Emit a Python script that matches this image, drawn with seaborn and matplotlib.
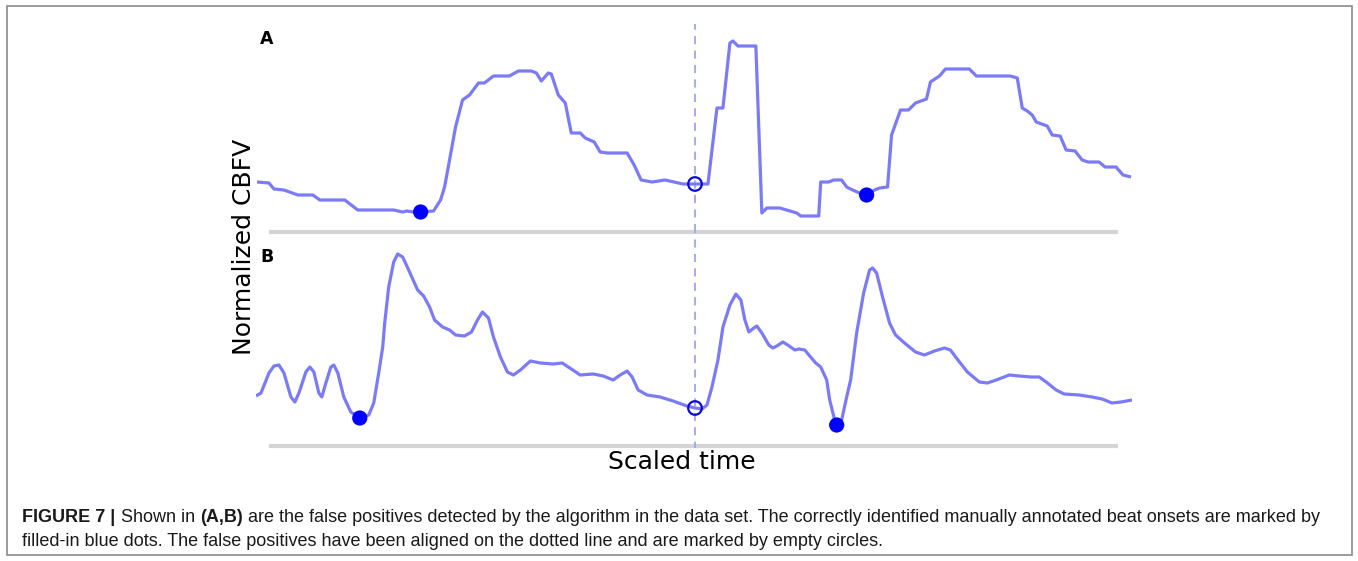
import matplotlib
matplotlib.use("Agg")
import matplotlib.pyplot as plt
from matplotlib.patches import Rectangle
import numpy as np
import pandas as pd
import seaborn as sns

# ---------------- data (scaled time, normalized CBFV) ----------------
time_a = [-4.39, -4.27, -4.22, -4.12, -3.98, -3.83, -3.76, -3.51, -3.38, -3.02,
          -2.93, -2.89, -2.82, -2.75, -2.62, -2.55, -2.51, -2.46, -2.40, -2.33,
          -2.26, -2.17, -2.11, -2.02, -1.86, -1.77, -1.64, -1.59, -1.54, -1.47,
          -1.44, -1.37, -1.30, -1.24, -1.15, -1.10, -1.01, -0.95, -0.88, -0.68,
          -0.61, -0.54, -0.43, -0.30, -0.12, 0.00, 0.13, 0.22, 0.28, 0.35,
          0.38, 0.43, 0.61, 0.67, 0.72, 0.85, 1.02, 1.06, 1.24, 1.26,
          1.34, 1.39, 1.47, 1.52, 1.58, 1.65, 1.72, 1.80, 1.85, 1.93,
          1.97, 2.06, 2.14, 2.21, 2.32, 2.36, 2.45, 2.51, 2.75, 2.82,
          3.16, 3.23, 3.28, 3.33, 3.38, 3.42, 3.53, 3.58, 3.66, 3.72,
          3.81, 3.88, 3.94, 4.05, 4.11, 4.22, 4.29, 4.37]
cbfv_a = [0.50, 0.49, 0.43, 0.42, 0.37, 0.37, 0.32, 0.32, 0.22, 0.22,
          0.20, 0.21, 0.20, 0.20, 0.21, 0.32, 0.45, 0.72, 1.05, 1.32,
          1.37, 1.49, 1.49, 1.56, 1.56, 1.61, 1.61, 1.59, 1.51, 1.59,
          1.58, 1.37, 1.29, 0.99, 0.99, 0.94, 0.90, 0.80, 0.79, 0.79,
          0.67, 0.52, 0.50, 0.52, 0.48, 0.48, 0.48, 1.24, 1.24, 1.89,
          1.91, 1.86, 1.86, 0.19, 0.24, 0.24, 0.19, 0.16, 0.16, 0.50,
          0.50, 0.52, 0.52, 0.45, 0.42, 0.39, 0.37, 0.42, 0.44, 0.45,
          0.97, 1.22, 1.22, 1.29, 1.33, 1.50, 1.56, 1.63, 1.63, 1.56,
          1.56, 1.54, 1.24, 1.21, 1.17, 1.10, 1.06, 0.97, 0.96, 0.82,
          0.81, 0.72, 0.70, 0.70, 0.65, 0.65, 0.57, 0.55]
onset_time_a = [-2.75, 1.72]
onset_cbfv_a = [0.20, 0.37]
fp_time_a = [0.00]
fp_cbfv_a = [0.48]

time_b = [-4.40, -4.35, -4.27, -4.22, -4.17, -4.12, -4.05, -4.01, -3.97, -3.90,
          -3.86, -3.82, -3.77, -3.74, -3.70, -3.65, -3.62, -3.58, -3.52, -3.45,
          -3.36, -3.27, -3.22, -3.17, -3.13, -3.11, -3.07, -3.02, -2.98, -2.93,
          -2.87, -2.78, -2.72, -2.66, -2.61, -2.53, -2.46, -2.40, -2.31, -2.24,
          -2.18, -2.13, -2.07, -2.02, -1.95, -1.88, -1.82, -1.75, -1.65, -1.55,
          -1.42, -1.33, -1.27, -1.15, -1.02, -0.92, -0.82, -0.75, -0.68, -0.63,
          -0.57, -0.48, -0.35, -0.22, -0.08, 0.00, 0.07, 0.12, 0.17, 0.23,
          0.28, 0.35, 0.41, 0.46, 0.50, 0.54, 0.59, 0.62, 0.67, 0.74,
          0.78, 0.82, 0.88, 0.93, 1.00, 1.04, 1.10, 1.15, 1.21, 1.26,
          1.32, 1.35, 1.40, 1.42, 1.47, 1.52, 1.56, 1.62, 1.69, 1.75,
          1.78, 1.82, 1.88, 1.95, 2.01, 2.10, 2.21, 2.30, 2.40, 2.50,
          2.56, 2.62, 2.73, 2.85, 2.93, 3.02, 3.15, 3.25, 3.37, 3.45,
          3.52, 3.62, 3.70, 3.85, 3.98, 4.08, 4.18, 4.27, 4.38]
cbfv_b = [0.50, 0.53, 0.73, 0.80, 0.81, 0.73, 0.49, 0.44, 0.53, 0.74,
          0.79, 0.74, 0.53, 0.49, 0.63, 0.79, 0.81, 0.73, 0.49, 0.34,
          0.28, 0.31, 0.43, 0.73, 0.99, 1.23, 1.59, 1.84, 1.92, 1.89,
          1.76, 1.56, 1.50, 1.39, 1.26, 1.19, 1.16, 1.11, 1.10, 1.14,
          1.26, 1.34, 1.28, 1.09, 0.89, 0.74, 0.71, 0.76, 0.85, 0.83,
          0.82, 0.83, 0.79, 0.71, 0.72, 0.70, 0.66, 0.71, 0.75, 0.69,
          0.56, 0.51, 0.49, 0.45, 0.40, 0.38, 0.37, 0.41, 0.59, 0.86,
          1.19, 1.41, 1.52, 1.46, 1.26, 1.14, 1.18, 1.20, 1.13, 1.01,
          0.98, 1.00, 1.04, 1.01, 0.96, 0.97, 0.96, 0.90, 0.83, 0.79,
          0.66, 0.46, 0.26, 0.21, 0.26, 0.49, 0.66, 1.13, 1.53, 1.76,
          1.78, 1.73, 1.49, 1.23, 1.11, 1.03, 0.94, 0.91, 0.95, 0.98,
          0.96, 0.88, 0.74, 0.64, 0.63, 0.66, 0.71, 0.70, 0.69, 0.69,
          0.64, 0.56, 0.52, 0.51, 0.49, 0.47, 0.43, 0.44, 0.46]
onset_time_b = [-3.36, 1.42]
onset_cbfv_b = [0.28, 0.21]
fp_time_b = [0.00]
fp_cbfv_b = [0.38]

panel_labels = ["A", "B"]
y_label = "Normalized CBFV"
x_label = "Scaled time"
caption_line1 = [("FIGURE 7 | ", "bold"), ("Shown in ", "normal"), ("(A,B)", "bold"),
                 (" are the false positives detected by the algorithm in the data set. "
                  "The correctly identified manually annotated beat onsets are marked by", "normal")]
caption_line2 = [("filled-in blue dots. The false positives have been aligned on the dotted "
                  "line and are marked by empty circles.", "normal")]

# ---------------- style ----------------
sns.set_theme(style="white")
plt.rcParams["font.family"] = ["DejaVu Sans"]

W, H = 1358, 561
fig = plt.figure(figsize=(W / 100, H / 100), dpi=100)

LINE_C = "#7b7bf7"
DOT_C = "#0000ff"
OPEN_C = "#0a0ad8"
DASH_C = "#a3a3f5"
BASE_C = "#d4d4d4"


def fx(px):
    return px / W


def fy(py):
    return 1 - py / H


axA = fig.add_axes([fx(256), fy(232), (1132 - 256) / W, (232 - 24) / H])
axB = fig.add_axes([fx(256), fy(446), (1132 - 256) / W, (446 - 232) / H])

panels = [
    (axA, time_a, cbfv_a, onset_time_a, onset_cbfv_a, fp_time_a, fp_cbfv_a, 2.08),
    (axB, time_b, cbfv_b, onset_time_b, onset_cbfv_b, fp_time_b, fp_cbfv_b, 2.14),
]

for i, (ax, t, v, ot, ov, ft, fv, ytop) in enumerate(panels):
    ax.set_facecolor("none")
    df = pd.DataFrame({"t": t, "v": v})
    sns.lineplot(data=df, x="t", y="v", ax=ax, color=LINE_C, lw=2.3,
                 sort=False, estimator=None, zorder=3)
    for ln in ax.get_lines():
        ln.set_solid_joinstyle("round")
        ln.set_solid_capstyle("butt")
    sns.scatterplot(x=ot, y=ov, ax=ax, color=DOT_C, s=120, edgecolor="none",
                    zorder=5, clip_on=False)
    sns.scatterplot(x=ft, y=fv, ax=ax, s=95, facecolor="none", edgecolor=OPEN_C,
                    linewidth=1.6, zorder=5, clip_on=False)
    if i == 0:
        ax.axvline(0, color=DASH_C, lw=1.3, ls=(0, (4.5, 3.5)), zorder=2)
    else:
        ax.axvline(0, ymin=-0.01, ymax=1, color=DASH_C, lw=1.3, ls=(1, (4.5, 3.5)),
                   zorder=2, clip_on=False)
    ax.set_xlim(-4.40, 4.38)
    ax.set_ylim(0, ytop)
    ax.set_xticks([])
    ax.set_yticks([])
    ax.set_xlabel("")
    ax.set_ylabel("")
    for s in ["top", "left", "right"]:
        ax.spines[s].set_visible(False)
    ax.spines["bottom"].set_color(BASE_C)
    ax.spines["bottom"].set_linewidth(3)
    ax.spines["bottom"].set_bounds(-4.25, 4.22)
    ax.spines["bottom"].set_zorder(1)

# panel letters
fig.text(fx(267), fy(39), panel_labels[0], fontsize=12.5, fontweight="bold",
         ha="center", va="center", color="black")
fig.text(fx(267), fy(257.5), panel_labels[1], fontsize=12.5, fontweight="bold",
         ha="center", va="center", color="black")

# axis labels
fig.text(fx(244), fy(247), y_label, fontsize=18, rotation=90, ha="center",
         va="center", color="black")
fig.text(fx(682), fy(462), x_label, fontsize=18, ha="center", va="center",
         color="black")

# border around the figure panel
fig.add_artist(Rectangle((fx(7), fy(555)), (1352 - 7) / W, (555 - 6) / H,
                         transform=fig.transFigure, fill=False,
                         edgecolor="#8a8a8a", lw=1.2))

# caption
renderer = fig.canvas.get_renderer()


def place_line(pieces, x0, y_base):
    x = x0
    for txt, weight in pieces:
        tx = fig.text(fx(x), fy(y_base), txt, fontsize=13, fontweight=weight,
                      family="Liberation Sans", ha="left", va="baseline",
                      color="#1a1a1a")
        bb = tx.get_window_extent(renderer)
        x += bb.width


place_line(caption_line1, 22.5, 521.5)
place_line(caption_line2, 22.5, 546)

fig.savefig("out.png", dpi=100)
